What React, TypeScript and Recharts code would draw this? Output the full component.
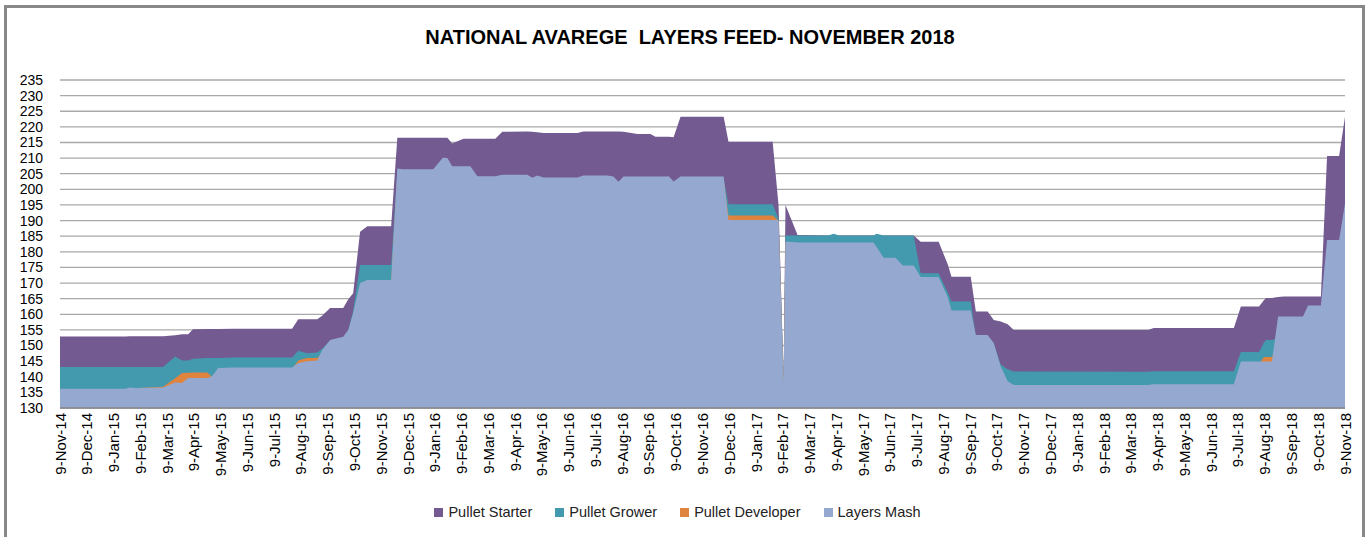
import React from "react";
import { AreaChart, Area, XAxis, YAxis, CartesianGrid, Legend } from "recharts";

// month labels on the x axis (one per tick, tick i = month i)
const dateLabels = [
  "9-Nov-14", "9-Dec-14", "9-Jan-15", "9-Feb-15", "9-Mar-15", "9-Apr-15", "9-May-15",
  "9-Jun-15", "9-Jul-15", "9-Aug-15", "9-Sep-15", "9-Oct-15", "9-Nov-15", "9-Dec-15",
  "9-Jan-16", "9-Feb-16", "9-Mar-16", "9-Apr-16", "9-May-16", "9-Jun-16", "9-Jul-16",
  "9-Aug-16", "9-Sep-16", "9-Oct-16", "9-Nov-16", "9-Dec-16", "9-Jan-17", "9-Feb-17",
  "9-Mar-17", "9-Apr-17", "9-May-17", "9-Jun-17", "9-Jul-17", "9-Aug-17", "9-Sep-17",
  "9-Oct-17", "9-Nov-17", "9-Dec-17", "9-Jan-18", "9-Feb-18", "9-Mar-18", "9-Apr-18",
  "9-May-18", "9-Jun-18", "9-Jul-18", "9-Aug-18", "9-Sep-18", "9-Oct-18", "9-Nov-18",
];

const yTicks = [130, 135, 140, 145, 150, 155, 160, 165, 170, 175, 180, 185, 190, 195, 200, 205, 210, 215, 220, 225, 230, 235];

// observation positions, in months since 9-Nov-14
const months = [
  0, 2.45, 2.6, 2.8, 3.85, 4.3, 4.56, 4.79, 4.97, 5.5, 5.68, 5.91, 6.47, 8.67, 8.9, 9.23, 9.61, 9.79,
  10.09, 10.58, 10.77, 10.95, 11.21, 11.48, 12.37, 12.6, 12.79, 13.94, 14.3, 14.47, 14.65, 15.07,
  15.33, 15.59, 16.26, 16.52, 17.46, 17.64, 17.83, 18.06, 19.33, 19.55, 20.45, 20.67, 20.86, 21.05,
  21.57, 22.06, 22.24, 22.75, 22.92, 23.18, 24.79, 24.97, 26.62, 26.84, 27.03, 27.1, 27.55, 28.7,
  28.9, 29.1, 30.39, 30.5, 30.77, 31.21, 31.48, 31.89, 32.15, 32.82, 33.16, 33.3, 34.02, 34.21,
  34.65, 34.88, 35.14, 35.4, 35.63, 40.64, 40.86, 43.85, 44.11, 44.79, 44.97, 45.05, 45.27, 45.5,
  45.72, 46.43, 46.62, 47.1, 47.33, 47.78, 48,
];

const pulletStarter = [
  152.9, 152.9, 153.0, 153.0, 153.0, 153.3, 153.6, 153.6, 155.2, 155.3, 155.3, 155.3, 155.4, 155.4, 158.4, 158.4, 158.4, 159.5,
  162.0, 162.0, 164.8, 166.7, 186.4, 188.2, 188.2, 216.5, 216.5, 216.5, 216.5, 216.5, 214.7, 216.2,
  216.2, 216.2, 216.2, 218.4, 218.5, 218.4, 218.3, 218.0, 218.0, 218.5, 218.5, 218.5, 218.5, 218.4,
  217.7, 217.7, 216.8, 216.8, 216.7, 223.2, 223.2, 215.2, 215.2, 195.0, 140.0, 195.0, 185.4, 185.2,
  185.2, 185.2, 185.2, 185.2, 185.2, 185.2, 185.2, 185.2, 183.2, 183.2, 176.0, 172.0, 172.0, 160.9,
  160.9, 158.2, 157.7, 156.8, 155.0, 155.0, 155.6, 155.6, 162.5, 162.5, 164.5, 165.2, 165.2, 165.5,
  165.7, 165.7, 165.7, 165.7, 210.7, 210.7, 223.2,
];

const pulletGrower = [
  143.1, 143.1, 143.1, 143.1, 143.1, 146.5, 145.2, 145.2, 145.8, 146.0, 146.0, 146.0, 146.2, 146.2, 148.3, 147.5, 147.8, 149.0,
  151.5, 152.5, 155.0, 161.0, 175.8, 175.8, 175.8, 206.0, 206.0, 206.0, 209.0, 209.0, 206.5, 206.5,
  206.5, 203.5, 203.5, 204.0, 204.0, 203.0, 204.0, 203.0, 203.0, 203.5, 203.5, 203.5, 202.0, 203.5,
  203.5, 203.5, 203.5, 203.5, 202.0, 203.5, 203.5, 195.2, 195.2, 190.5, 139.0, 185.2, 185.2, 185.2,
  185.8, 185.2, 185.2, 185.8, 185.2, 185.2, 185.2, 185.2, 173.1, 173.1, 167.0, 164.1, 164.1, 153.0,
  153.0, 150.5, 143.9, 142.4, 141.7, 141.6, 141.8, 141.8, 147.9, 147.9, 151.0, 151.8, 151.8, 152.5,
  153.0, 153.0, 154.0, 154.0, 170.0, 172.0, 180.0,
];

const pulletDeveloper = [
  135.8, 135.8, 136.3, 136.3, 136.8, 139.5, 141.2, 141.3, 141.4, 141.4, 140.0, 142.0, 142.5, 142.5, 145.2, 146.0, 146.0, 147.5,
  150.5, 151.5, 154.0, 159.0, 168.0, 170.0, 170.0, 205.0, 205.0, 205.0, 208.0, 208.0, 206.0, 206.0,
  206.0, 203.0, 203.0, 203.5, 203.5, 202.5, 203.5, 202.5, 202.5, 203.0, 203.0, 203.0, 201.5, 203.0,
  203.0, 203.0, 203.0, 203.0, 201.5, 203.0, 203.0, 191.6, 191.6, 190.0, 138.0, 183.0, 182.5, 182.5,
  182.5, 182.5, 182.5, 181.0, 177.5, 177.5, 175.0, 175.0, 171.5, 171.5, 165.0, 161.0, 161.0, 152.5,
  152.5, 150.0, 142.5, 138.0, 137.0, 137.0, 137.2, 137.2, 144.0, 144.0, 146.3, 146.3, 146.3, 150.0,
  151.0, 151.0, 152.0, 152.0, 168.0, 170.0, 178.0,
];

const layersMash = [
  136.2, 136.2, 136.6, 136.4, 136.6, 138.2, 138.0, 139.6, 139.6, 139.6, 140.2, 142.8, 143.0, 143.0, 144.4, 145.0, 145.2, 148.5,
  151.8, 152.8, 155.0, 160.4, 170.0, 171.0, 171.0, 206.7, 206.4, 206.4, 210.1, 210.0, 207.4, 207.4,
  207.4, 204.2, 204.2, 204.7, 204.7, 203.7, 204.4, 203.8, 203.8, 204.4, 204.4, 204.1, 202.4, 204.1,
  204.1, 204.1, 204.1, 204.1, 202.5, 204.1, 204.1, 190.2, 190.2, 190.2, 138.5, 183.3, 183.0, 183.0,
  183.0, 183.0, 183.0, 181.5, 178.1, 178.1, 175.6, 175.6, 171.9, 171.9, 165.5, 161.2, 161.2, 153.4,
  153.4, 150.8, 143.3, 138.6, 137.4, 137.4, 137.6, 137.6, 144.9, 144.9, 144.9, 144.9, 144.9, 159.3,
  159.3, 159.3, 162.8, 162.8, 183.8, 183.8, 195.5,
];

const series = [
  { key: "starter", name: "Pullet Starter", color: "#735a90", values: pulletStarter },
  { key: "grower", name: "Pullet Grower", color: "#4399ae", values: pulletGrower },
  { key: "developer", name: "Pullet Developer", color: "#de843f", values: pulletDeveloper },
  { key: "mash", name: "Layers Mash", color: "#95a9d0", values: layersMash },
];

const data = months.map((m, i) => {
  const row: { [k: string]: number } = { m };
  series.forEach((s) => (row[s.key] = s.values[i]));
  return row;
});

const FONT = "'Liberation Sans', Arial, sans-serif";

function DateTick({ x, y, payload }: any) {
  return (
    <text
      x={x}
      y={y}
      transform={`rotate(-90, ${x}, ${y})`}
      textAnchor="end"
      dominantBaseline="central"
      fontSize={15}
      fontFamily={FONT}
      fill="#000"
    >
      {dateLabels[payload.value]}
    </text>
  );
}

function LegendRow() {
  return (
    <div style={{ display: "flex", justifyContent: "center", alignItems: "center", height: 30, paddingLeft: 10, gap: 23, fontFamily: FONT, fontSize: 14.5, color: "#222" }}>
      {series.map((s) => (
        <div key={s.key} style={{ display: "flex", alignItems: "center" }}>
          <span style={{ width: 9, height: 9, background: s.color, marginRight: 5, display: "inline-block" }} />
          {s.name}
        </div>
      ))}
    </div>
  );
}

export default function App() {
  return (
    <div style={{ position: "relative", width: 1368, height: 537, overflow: "hidden", background: "#fff" }}>
      <style>{`body{margin:0}`}</style>
      <div style={{ position: "absolute", left: 4, top: 5, width: 1361, height: 600, border: "3px solid #888", boxSizing: "border-box" }} />
      <div
        style={{
          position: "absolute", top: 26, left: 0, width: 1368, textAlign: "center", paddingLeft: 6,
          fontFamily: FONT, fontWeight: "bold", fontSize: 20, whiteSpace: "pre", color: "#000",
        }}
      >
        NATIONAL AVAREGE  LAYERS FEED- NOVEMBER 2018
      </div>
      <div style={{ position: "absolute", left: 0, top: 0 }}>
        <AreaChart width={1368} height={537} data={data} margin={{ top: 80, right: 23, left: 0, bottom: 10 }}>
          <CartesianGrid vertical={false} stroke="#a9a9a9" strokeWidth={1.3} />
          <XAxis
            dataKey="m"
            type="number"
            domain={[0, 48]}
            ticks={dateLabels.map((_, i) => i)}
            interval={0}
            tick={<DateTick />}
            tickLine={false}
            tickSize={0}
            tickMargin={5}
            height={89}
            axisLine={{ stroke: "#868686", strokeWidth: 1.3 }}
          />
          <YAxis
            domain={[130, 235]}
            ticks={yTicks}
            interval={0}
            width={60}
            tickLine={false}
            axisLine={false}
            tickSize={0}
            tickMargin={17}
            tick={{ fontSize: 14, fontFamily: FONT, fill: "#000" }}
          />
          <Legend verticalAlign="bottom" height={30} content={<LegendRow />} />
          {series.map((s) => (
            <Area
              key={s.key}
              type="linear"
              dataKey={s.key}
              name={s.name}
              stroke="none"
              fill={s.color}
              fillOpacity={1}
              dot={false}
              activeDot={false}
              isAnimationActive={false}
            />
          ))}
        </AreaChart>
      </div>
    </div>
  );
}
